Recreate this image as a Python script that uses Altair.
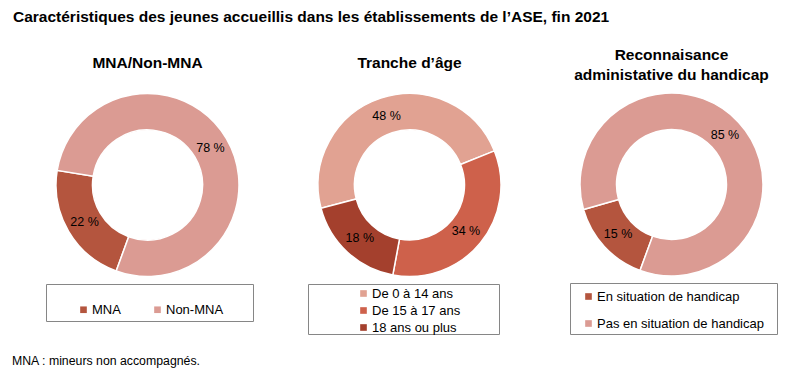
import math
import altair as alt
import pandas as pd

FONT = "Liberation Sans"

title_text = "Caractéristiques des jeunes accueillis dans les établissements de l’ASE, fin 2021"
panel_titles = ["MNA/Non-MNA", "Tranche d’âge", "Reconnaisance\nadministative du handicap"]
footnote = "MNA : mineurs non accompagnés."

mna_cats = ["MNA", "Non-MNA"]
mna_vals = [22, 78]
mna_colors = ["#B4553E", "#DB9B93"]

age_cats = ["De 0 à 14 ans", "De 15 à 17 ans", "18 ans ou plus"]
age_vals = [48, 34, 18]
age_colors = ["#E1A292", "#CE614B", "#A4402D"]

hand_cats = ["En situation de handicap", "Pas en situation de handicap"]
hand_vals = [15, 85]
hand_colors = ["#B4553E", "#DB9B93"]


def donut(cats, vals, colors, cx, cy, start_deg, legend):
    df = pd.DataFrame({"cat": cats, "value": vals, "idx": list(range(len(cats)))})
    start = math.radians(start_deg)
    tscale = alt.Scale(domain=[0, 100], range=[start, start + 2 * math.pi])
    base = alt.Chart(df)
    arc = base.mark_arc(outerRadius=91.5, innerRadius=55, stroke="white", strokeWidth=1.5).encode(
        theta=alt.Theta("value:Q", stack=True, scale=tscale),
        color=alt.Color("cat:N", scale=alt.Scale(domain=cats, range=colors), legend=legend),
        order=alt.Order("idx:Q"),
        x=alt.value(cx),
        y=alt.value(cy),
    )
    text = base.transform_calculate(label="datum.value + ' %'").mark_text(
        radius=73, font=FONT, fontSize=12.5, color="black"
    ).encode(
        theta=alt.Theta("value:Q", stack=True, scale=tscale),
        detail="cat:N",
        order=alt.Order("idx:Q"),
        text="label:N",
        x=alt.value(cx),
        y=alt.value(cy),
    )
    return [arc, text]


def leg(x, y, direction, row_pad=4, col_pad=30):
    return alt.Legend(
        orient="none", legendX=x, legendY=y, direction=direction, title=None,
        symbolType="square", symbolSize=44, symbolStrokeWidth=0,
        labelFont=FONT, labelFontSize=13, labelColor="black", labelLimit=400,
        rowPadding=row_pad, columnPadding=col_pad, labelOffset=2, padding=0,
    )


def box(x1, x2, y1, y2):
    return alt.Chart(pd.DataFrame({"k": [0]})).mark_rect(
        fill="white", stroke="#868686", strokeWidth=1
    ).encode(x=alt.value(x1), x2=alt.value(x2), y=alt.value(y1), y2=alt.value(y2))


def label(text, x, y, size, weight="normal", align="left", line_height=19):
    return alt.Chart(pd.DataFrame({"t": [text]})).mark_text(
        font=FONT, fontSize=size, fontWeight=weight, align=align, baseline="middle",
        color="black", lineBreak="\n", lineHeight=line_height,
    ).encode(text="t:N", x=alt.value(x), y=alt.value(y))


layers = []
layers += [box(46.5, 253.5, 284.5, 321.5), box(308.5, 499.5, 284.5, 334.5), box(570.5, 777.5, 283.5, 334.5)]
layers += donut(mna_cats, mna_vals, mna_colors, 147.5, 185, 200, leg(77, 303, "horizontal"))
layers += donut(age_cats, age_vals, age_colors, 409.5, 185, 255.3, leg(357, 287, "vertical", row_pad=3))
layers += donut(hand_cats, hand_vals, hand_colors, 671.5, 184.5, 200.1, leg(582, 290, "vertical", row_pad=13))
layers += [
    label(title_text, 13, 17, 15.5, "bold"),
    label(panel_titles[0], 147.5, 63, 15.5, "bold", "center"),
    label(panel_titles[1], 409.5, 63, 15.5, "bold", "center"),
    label(panel_titles[2], 671.5, 55, 15.5, "bold", "center", 20),
    label(footnote, 12, 361, 12.3),
]

chart = alt.layer(*layers).resolve_scale(theta="independent", color="independent").properties(
    width=798, height=376, autosize=alt.AutoSizeParams(type="none"), padding=0
).configure_view(stroke=None)

chart.save("out.html", embed_options={"renderer": "svg", "actions": False})
